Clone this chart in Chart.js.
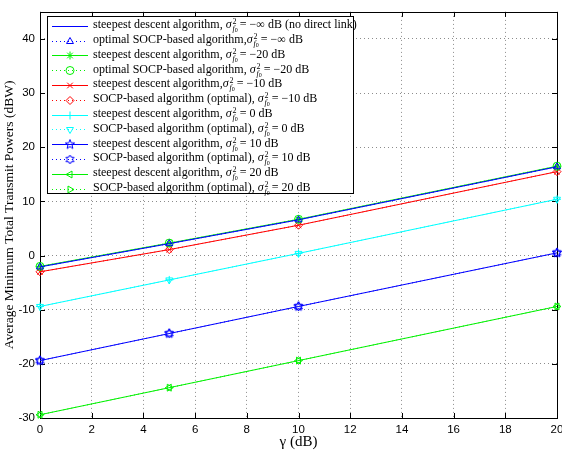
<!DOCTYPE html>
<html>
<head>
<meta charset="utf-8">
<script src="https://cdn.jsdelivr.net/npm/chart.js@4.4.0/dist/chart.umd.min.js"></script>
<style>
  html, body { margin: 0; padding: 0; background: #fff; }
  #wrap { position: relative; width: 562px; height: 453px; }
  #legend {
    position: absolute; background: #fff; border: 1px solid #000; box-sizing: border-box;
    font-family: "Liberation Serif", serif; font-size: 12px; color: #000; padding-top: 1px;
  }
  .row { height: 14.8px; display: flex; align-items: center; white-space: nowrap; }
  .row canvas { width: 40px; height: 14px; margin: 0 3px 0 2px; }
  .sg { font-style: italic; }
  .ss { display: inline-block; vertical-align: -3px; line-height: 7px; font-size: 8px; margin: 0 2px 0 1px; }
  .ss span { display: block; }
  .ss i sub { font-size: 6px; font-style: normal; vertical-align: -1px; }
</style>
</head>
<body>
<div id="wrap">
  <canvas id="chart" width="562" height="453"></canvas>
  <div id="legend"></div>
</div>
<script>
// ====== DATA ======
const gammaDb = [0, 5, 10, 20];

const sdNoLink = [-2.1, 2.2, 6.6, 16.4];
const socpNoLink = [-2.1, 2.2, 6.6, 16.4];
const sdM20 = [-2.0, 2.3, 6.7, 16.5];
const socpM20 = [-2.0, 2.3, 6.7, 16.5];
const sdM10 = [-3.0, 1.1, 5.6, 15.5];
const socpM10 = [-3.0, 1.1, 5.6, 15.5];
const sd0 = [-9.4, -4.5, 0.4, 10.4];
const socp0 = [-9.4, -4.5, 0.4, 10.4];
const sd10 = [-19.4, -14.4, -9.4, 0.5];
const socp10 = [-19.4, -14.4, -9.4, 0.5];
const sd20 = [-29.4, -24.4, -19.4, -9.4];
const socp20 = [-29.4, -24.4, -19.4, -9.4];

const labelHeads = [
  "steepest descent algorithm, ", "optimal SOCP-based algorithm,",
  "steepest descent algorithm, ", "optimal SOCP-based algorithm, ",
  "steepest descent algorithm,", "SOCP-based algorithm (optimal), ",
  "steepest descent algorithm, ", "SOCP-based algorithm (optimal), ",
  "steepest descent algorithm, ", "SOCP-based algorithm (optimal), ",
  "steepest descent algorithm, ", "SOCP-based algorithm (optimal), "
];
const labelTails = [
  "−∞ dB (no direct link)", "−∞ dB", "−20 dB", "−20 dB", "−10 dB", "−10 dB",
  "0 dB", "0 dB", "10 dB", "10 dB", "20 dB", "20 dB"
];

const xTicks = [0, 2, 4, 6, 8, 10, 12, 14, 16, 18, 20];

// ====== MARKERS ======
function starMarker(points, color, r) {
  const s = Math.ceil(r * 2 + 4);
  const c = document.createElement("canvas");
  c.width = s; c.height = s;
  const ctx = c.getContext("2d");
  ctx.strokeStyle = color;
  ctx.lineWidth = 1;
  const inner = points === 5 ? r * 0.42 : r * 0.58;
  ctx.beginPath();
  for (let i = 0; i < points * 2; i++) {
    const a = -Math.PI / 2 + i * Math.PI / points;
    const rr = i % 2 ? inner : r;
    ctx.lineTo(s / 2 + rr * Math.cos(a), s / 2 + rr * Math.sin(a));
  }
  ctx.closePath();
  ctx.stroke();
  return c;
}

const BLUE = "#0000ff", GREEN = "#00f000", RED = "#ff0000", CYAN = "#00ffff";

function series(values, color, dotted, style, rotation) {
  return {
    data: gammaDb.map((g, i) => ({ x: g, y: values[i] })),
    borderColor: color,
    backgroundColor: "rgba(0,0,0,0)",
    borderWidth: 1,
    borderDash: dotted ? [1, 3] : [],
    pointStyle: style || "circle",
    pointRadius: style ? 4 : 0,
    pointRotation: rotation || 0,
    pointBorderColor: color,
    pointBackgroundColor: "rgba(0,0,0,0)",
    pointBorderWidth: 1,
    clip: false,
    tension: 0
  };
}

const seriesList = [
  series(sdNoLink, BLUE, false, null),
  series(socpNoLink, BLUE, true, "triangle"),
  series(sdM20, GREEN, false, "star"),
  series(socpM20, GREEN, true, "circle"),
  series(sdM10, RED, false, "crossRot"),
  series(socpM10, RED, true, "rectRot"),
  series(sd0, CYAN, false, "cross"),
  series(socp0, CYAN, true, "triangle", 180),
  series(sd10, BLUE, false, starMarker(5, BLUE, 5)),
  series(socp10, BLUE, true, starMarker(6, BLUE, 4.5)),
  series(sd20, GREEN, false, "triangle", -90),
  series(socp20, GREEN, true, "triangle", 90)
];
seriesList.forEach((d, i) => {
  d.label = labelHeads[i] + "σ²f₀ = " + labelTails[i];
});

// ====== FRAME + INWARD TICKS ======
const framePlugin = {
  id: "frame",
  beforeDatasetsDraw(chart) {
    const { ctx, chartArea: a, scales } = chart;
    ctx.save();
    ctx.strokeStyle = "#000";
    ctx.lineWidth = 1;
    ctx.strokeRect(Math.round(a.left) + 0.5, Math.round(a.top) + 0.5,
      Math.round(a.right - a.left), Math.round(a.bottom - a.top));
    ctx.beginPath();
    scales.x.ticks.forEach(t => {
      const px = Math.round(scales.x.getPixelForValue(t.value)) + 0.5;
      ctx.moveTo(px, a.bottom); ctx.lineTo(px, a.bottom - 5);
      ctx.moveTo(px, a.top); ctx.lineTo(px, a.top + 5);
    });
    scales.y.ticks.forEach(t => {
      const py = Math.round(scales.y.getPixelForValue(t.value)) + 0.5;
      ctx.moveTo(a.left, py); ctx.lineTo(a.left + 5, py);
      ctx.moveTo(a.right, py); ctx.lineTo(a.right - 5, py);
    });
    ctx.stroke();
    ctx.restore();
  }
};

// ====== HTML LEGEND ======
function sigmaHtml() {
  return '<span class="sg">σ</span><span class="ss"><span>2</span><span><i>f<sub>0</sub></i></span></span>';
}

const legendPlugin = {
  id: "htmlLegend",
  afterRender(chart) {
    if (chart._legendDone) return;
    chart._legendDone = true;
    const box = document.getElementById("legend");
    const a = chart.chartArea;
    box.style.left = (a.left + 7) + "px";
    box.style.top = (a.top + 4.5) + "px";
    box.style.width = "307px";
    box.style.height = "178px";
    box.innerHTML = "";
    chart.data.datasets.forEach((ds, i) => {
      const row = document.createElement("div");
      row.className = "row";
      const c = document.createElement("canvas");
      c.width = 40; c.height = 14;
      const g = c.getContext("2d");
      g.strokeStyle = ds.borderColor;
      g.lineWidth = 1;
      g.setLineDash(ds.borderDash);
      g.beginPath(); g.moveTo(2, 7.5); g.lineTo(38, 7.5); g.stroke();
      g.setLineDash([]);
      if (ds.pointRadius > 0) {
        g.fillStyle = "rgba(0,0,0,0)";
        Chart.helpers.drawPoint(g, {
          pointStyle: ds.pointStyle, rotation: ds.pointRotation,
          radius: ds.pointRadius, borderWidth: 1
        }, 20, 7.5);
      }
      row.appendChild(c);
      const span = document.createElement("span");
      span.innerHTML = labelHeads[i] + sigmaHtml() + "= " + labelTails[i];
      row.appendChild(span);
      box.appendChild(row);
    });
  }
};

// ====== CHART ======
new Chart(document.getElementById("chart"), {
  type: "line",
  data: { datasets: seriesList },
  options: {
    responsive: false,
    animation: false,
    layout: { padding: { top: 9, right: 5, left: 0, bottom: 0 } },
    plugins: { legend: { display: false }, tooltip: { enabled: false } },
    scales: {
      x: {
        type: "linear", min: 0, max: 20,
        afterBuildTicks: s => { s.ticks = xTicks.map(v => ({ value: v })); },
        afterFit: s => { s.height = 35; s.paddingRight = 0; s.paddingLeft = 0; },
        grid: { color: "rgba(0,0,0,0.45)", drawTicks: false },
        border: { display: false, dash: [1, 3] },
        ticks: { padding: 5, color: "#000", font: { family: "Liberation Sans", size: 11.5 } },
        title: {
          display: true, text: "γ (dB)", color: "#000",
          font: { family: "Liberation Serif", size: 15 }, padding: { top: 0, bottom: 2 }
        }
      },
      y: {
        min: -30, max: 45,
        afterBuildTicks: s => { s.ticks = s.ticks.filter(t => t.value % 10 === 0); },
        afterFit: s => { s.width = 40; },
        grid: { color: "rgba(0,0,0,0.45)", drawTicks: false },
        border: { display: false, dash: [1, 3] },
        ticks: { stepSize: 10, padding: 5, color: "#000", font: { family: "Liberation Sans", size: 11.5 } },
        title: {
          display: true, text: "Average Minimum Total Transmit Powers (dBW)", color: "#000",
          font: { family: "Liberation Serif", size: 13.5 }, padding: { top: 1, bottom: 0 }
        }
      }
    }
  },
  plugins: [framePlugin, legendPlugin]
});
</script>
</body>
</html>
